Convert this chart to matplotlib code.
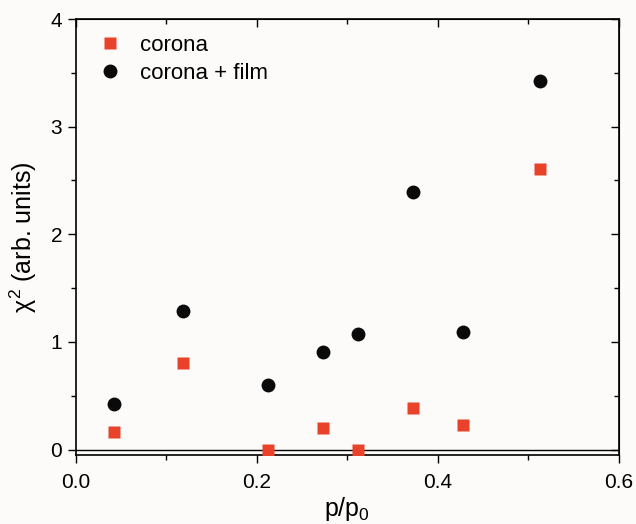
import matplotlib.pyplot as plt
from matplotlib.ticker import MultipleLocator

plt.rcParams['font.family'] = ['Liberation Sans', 'DejaVu Sans']
plt.rcParams['mathtext.fontset'] = 'custom'
plt.rcParams['mathtext.rm'] = 'Liberation Sans'
plt.rcParams['mathtext.it'] = 'Liberation Sans'

# data
p_ratio = [0.042, 0.118, 0.212, 0.273, 0.312, 0.373, 0.428, 0.513]
chi2_corona = [0.16, 0.80, 0.0, 0.20, 0.0, 0.39, 0.23, 2.61]
chi2_film = [0.42, 1.29, 0.60, 0.91, 1.07, 2.39, 1.09, 3.42]

fig = plt.figure(figsize=(6.36, 5.24), dpi=100)
fig.patch.set_facecolor('#fcfbfa')
ax = fig.add_axes([0.1195, 0.1317, 0.8535, 0.832])
ax.set_facecolor('#fcfbfa')

ax.axhline(0, color='black', lw=1.0, zorder=1)
ax.plot(p_ratio, chi2_corona, 's', color='#e8432a', ms=8.6, mec='none', label='corona', zorder=3)
ax.plot(p_ratio, chi2_film, 'o', color='#0a0a0a', ms=10, mec='none', label='corona + film', zorder=3)

ax.set_xlim(0, 0.6)
ax.set_ylim(-0.05, 4)
ax.xaxis.set_major_locator(MultipleLocator(0.2))
ax.xaxis.set_minor_locator(MultipleLocator(0.1))
ax.yaxis.set_major_locator(MultipleLocator(1))
ax.yaxis.set_minor_locator(MultipleLocator(0.5))
ax.xaxis.set_major_formatter(plt.FuncFormatter(lambda v, p: f'{v:.1f}'))

for s in ax.spines.values():
    s.set_linewidth(1.2)

ax.tick_params(which='both', direction='out', labelsize=15, width=1.0)
ax.tick_params(which='major', length=6)
ax.tick_params(which='minor', length=3.5)
ax.tick_params(axis='x', which='major', pad=7)
ax.tick_params(axis='y', which='major', pad=4)

# mirrored ticks pointing inward on top and right
axt = ax.secondary_xaxis('top')
axt.xaxis.set_major_locator(MultipleLocator(0.2))
axt.xaxis.set_minor_locator(MultipleLocator(0.1))
axt.tick_params(which='both', direction='in', labeltop=False, width=1.0)
axt.tick_params(which='major', length=6)
axt.tick_params(which='minor', length=3.5)
axr = ax.secondary_yaxis('right')
axr.yaxis.set_major_locator(MultipleLocator(1))
axr.yaxis.set_minor_locator(MultipleLocator(0.5))
axr.tick_params(which='both', direction='in', labelright=False, width=1.0)
axr.tick_params(which='major', length=6)
axr.tick_params(which='minor', length=3.5)

ax.set_xlabel('p/p$_0$', fontsize=18, labelpad=2)
ax.set_ylabel(r'$\chi^2$ (arb. units)', fontsize=18, labelpad=8)

ax.legend(loc='upper left', frameon=False, fontsize=16, handlelength=2.0,
          handletextpad=0.35, borderpad=0, borderaxespad=0, labelspacing=0.3,
          bbox_to_anchor=(0.022, 0.963))

fig.savefig('out.png', dpi=100, facecolor=fig.get_facecolor())
